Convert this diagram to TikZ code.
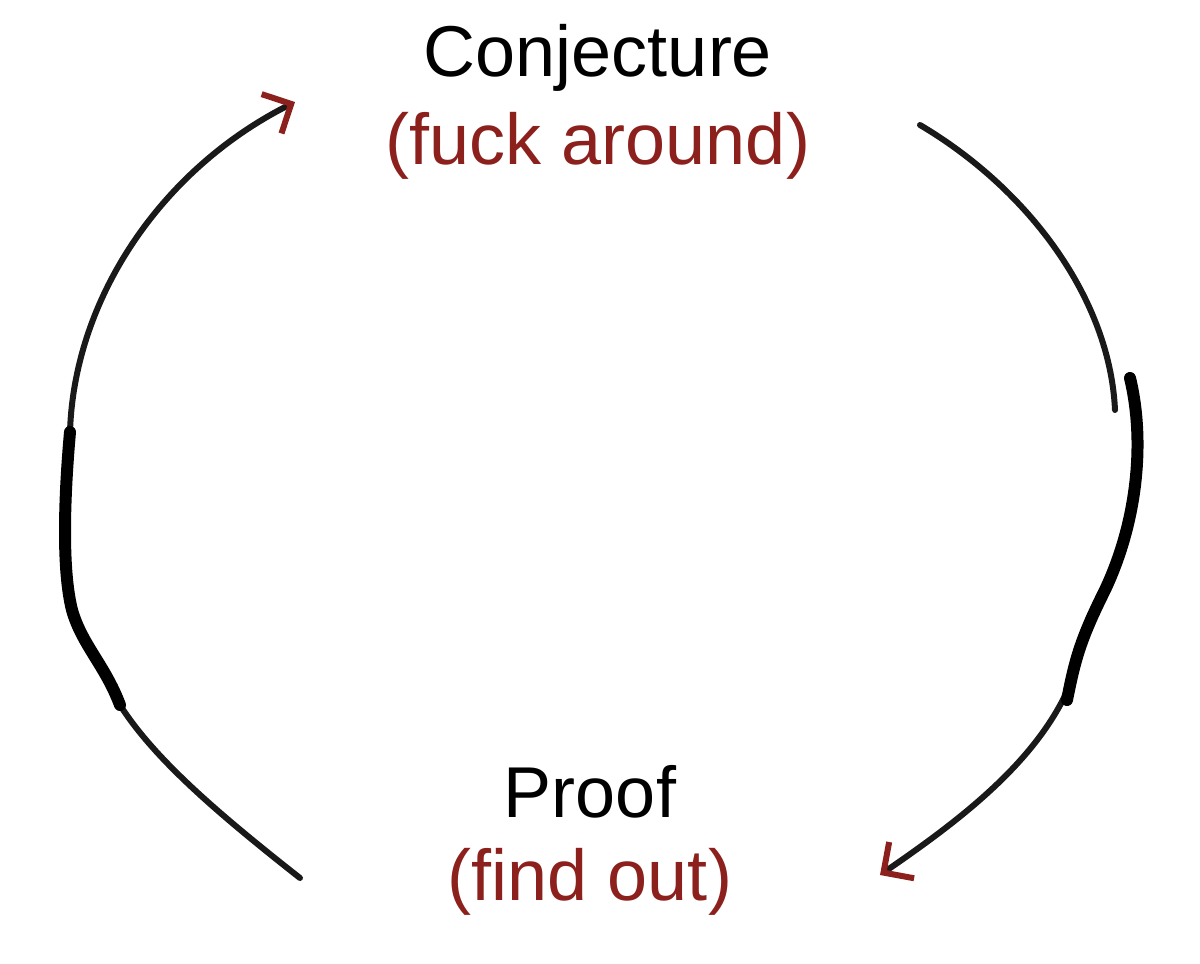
\documentclass[tikz,border=0pt]{standalone}
\usepackage{fontspec}
\setmainfont{Liberation Sans}
\usetikzlibrary{arrows.meta}
\definecolor{dred}{RGB}{140,32,28}
\begin{document}
\begin{tikzpicture}[x=1pt,y=-1pt,
  lbl/.style={font=\fontsize{72}{80}\selectfont,inner sep=0pt},
  arc/.style={line width=6pt,black!90,line cap=round},
  thick/.style={line width=12pt,black,line cap=round,line join=round},
  tip/.style={-{Straight Barb[length=22pt,width=44pt,line width=6pt,color=dred]}}]
\useasboundingbox (0,0) rectangle (1200,964);
\fill[white] (0,0) rectangle (1200,964);
\node[lbl] (c) at (598,58) {Conjecture};
\node[lbl,text=dred] (ca) at (598,146) {(fuck around)};
\node[lbl] (p) at (590,792) {Proof};
\node[lbl,text=dred] (pf) at (590,882) {(find out)};
\coordinate (l0) at (300,878);
\coordinate (l1) at (295,102);
\coordinate (r0) at (920,125);
\coordinate (r1) at (880,875);
\draw[arc] (l0) .. controls (220,815) and (155,760) .. (120,705);
\draw[arc,tip] (70,432) .. controls (74,300) and (160,170) .. (l1);
\draw[arc] (r0) .. controls (1030,190) and (1110,300) .. (1115,410);
\draw[arc,tip] (1072,680) .. controls (1040,760) and (960,820) .. (r1);
\draw[thick] (70,432) .. controls (64,500) and (62,570) .. (72,610) .. controls (82,645) and (105,665) .. (120,705);
\draw[thick] (1130,378) .. controls (1145,440) and (1138,520) .. (1105,590) .. controls (1080,640) and (1075,660) .. (1067,700);
\end{tikzpicture}
\end{document}
